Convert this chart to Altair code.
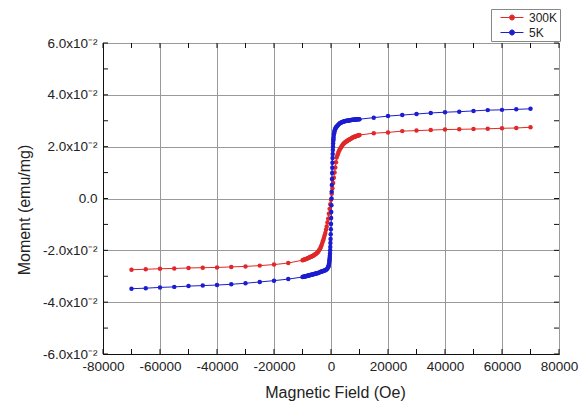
import altair as alt
import pandas as pd

# ---- 300K series ----
field_300 = [-70000, -65000, -60000, -55000, -50000, -45000, -40000, -35000, -30000, -25000, -20000, -15000,
             -10000, -9750, -9500, -9250, -9000, -8750, -8500, -8250, -8000, -7750, -7500, -7250,
             -7000, -6750, -6500, -6250, -6000, -5750, -5500, -5250, -5000, -4750, -4500, -4250,
             -4000, -3750, -3500, -3250, -3000, -2750, -2500, -2250, -2000, -1750, -1500, -1250,
             -1000, -750, -500, -250, 0, 250, 500, 750, 1000, 1250, 1500, 1750,
             2000, 2250, 2500, 2750, 3000, 3250, 3500, 3750, 4000, 4250, 4500, 4750,
             5000, 5250, 5500, 5750, 6000, 6250, 6500, 6750, 7000, 7250, 7500, 7750,
             8000, 8250, 8500, 8750, 9000, 9250, 9500, 9750, 10000,
             15000, 20000, 25000, 30000, 35000, 40000, 45000, 50000, 55000, 60000, 65000, 70000]
moment_300 = [-0.0275, -0.0273, -0.0271, -0.0270, -0.0268, -0.0267, -0.0266, -0.0264, -0.0262, -0.0259, -0.0255, -0.0249,
              -0.0238, -0.0237, -0.0236, -0.0235, -0.0234, -0.0233, -0.0232, -0.0231, -0.0230, -0.0229, -0.0227, -0.0226,
              -0.0225, -0.0224, -0.0222, -0.0221, -0.0219, -0.0217, -0.0215, -0.0213, -0.0211, -0.0208, -0.0205, -0.0201,
              -0.0197, -0.0192, -0.0185, -0.0178, -0.0170, -0.0161, -0.0152, -0.0143, -0.0133, -0.0121, -0.0108, -0.0093,
              -0.0078, -0.0059, -0.0040, -0.0022, -0.0005, 0.0018, 0.0040, 0.0060, 0.0080, 0.0100, 0.0120, 0.0140,
              0.0158, 0.0167, 0.0175, 0.0182, 0.0188, 0.0193, 0.0197, 0.0202, 0.0206, 0.0209, 0.0212, 0.0215,
              0.0217, 0.0219, 0.0221, 0.0223, 0.0225, 0.0227, 0.0228, 0.0230, 0.0231, 0.0233, 0.0234, 0.0236,
              0.0237, 0.0238, 0.0239, 0.0240, 0.0241, 0.0242, 0.0243, 0.0244, 0.0245,
              0.0252, 0.0255, 0.0260, 0.0262, 0.0264, 0.0266, 0.0267, 0.0268, 0.0269, 0.0271, 0.0272, 0.0275]

# ---- 5K series ----
field_5 = [-70000, -65000, -60000, -55000, -50000, -45000, -40000, -35000, -30000, -25000, -20000, -15000,
           -10000, -9750, -9500, -9250, -9000, -8750, -8500, -8250, -8000, -7750, -7500, -7250,
           -7000, -6750, -6500, -6250, -6000, -5750, -5500, -5250, -5000, -4750, -4500, -4250,
           -4000, -3750, -3500, -3250, -3000, -2750, -2500, -2250, -2000, -1750, -1500, -1250, -1000,
           -900, -800, -700, -600, -550,
           -500, -450, -400, -350, -300, -250, -200, -150, -100, -50, 0, 50, 100, 150, 200,
           250, 300, 350, 400, 450, 500, 550, 600, 650, 700, 750, 800, 850, 900,
           1000, 1100, 1200, 1300, 1400, 1550, 1700, 1850,
           2000, 2250, 2500, 2750, 3000, 3250, 3500, 3750, 4000, 4250, 4500, 4750,
           5000, 5250, 5500, 5750, 6000, 6250, 6500, 6750, 7000, 7250, 7500, 7750,
           8000, 8250, 8500, 8750, 9000, 9250, 9500, 9750, 10000,
           15000, 20000, 25000, 30000, 35000, 40000, 45000, 50000, 55000, 60000, 65000, 70000]
moment_5 = [-0.0348, -0.0346, -0.0343, -0.0341, -0.0338, -0.0336, -0.0334, -0.0331, -0.0327, -0.0322, -0.0317, -0.0311,
            -0.0303, -0.0302, -0.0302, -0.0301, -0.0300, -0.0300, -0.0299, -0.0298, -0.0297, -0.0297, -0.0296, -0.0295,
            -0.0294, -0.0294, -0.0293, -0.0292, -0.0291, -0.0291, -0.0290, -0.0289, -0.0288, -0.0288, -0.0287, -0.0286,
            -0.0285, -0.0284, -0.0283, -0.0282, -0.0281, -0.0280, -0.0279, -0.0278, -0.0277, -0.0275, -0.0273, -0.0270, -0.0265,
            -0.0262, -0.0258, -0.0252, -0.0245, -0.0240,
            -0.0235, -0.0229, -0.0222, -0.0212, -0.0200, -0.0187, -0.0172, -0.0156, -0.0138, -0.0119, -0.0098, -0.0075, -0.0052, -0.0026, 0.0,
            0.0026, 0.0052, 0.0075, 0.0098, 0.0119, 0.0138, 0.0156, 0.0172, 0.0187, 0.0200, 0.0212, 0.0222, 0.0229, 0.0235,
            0.0245, 0.0252, 0.0258, 0.0262, 0.0266, 0.0270, 0.0273, 0.0276,
            0.0278, 0.0281, 0.0284, 0.0287, 0.0289, 0.0291, 0.0292, 0.0294, 0.0295, 0.0296, 0.0297, 0.0298,
            0.0299, 0.0299, 0.0300, 0.0300, 0.0301, 0.0301, 0.0302, 0.0302, 0.0303, 0.0303, 0.0304, 0.0304,
            0.0304, 0.0305, 0.0305, 0.0305, 0.0305, 0.0306, 0.0306, 0.0306, 0.0306,
            0.0312, 0.0318, 0.0322, 0.0326, 0.0330, 0.0333, 0.0335, 0.0338, 0.0341, 0.0342, 0.0344, 0.0346]

assert len(field_300) == len(moment_300)
assert len(field_5) == len(moment_5)

series_names = ["300K", "5K"]
series_colors = ["#e02828", "#1c1cd0"]

x_ticks = [-80000, -70000, -60000, -50000, -40000, -30000, -20000, -10000, 0,
           10000, 20000, 30000, 40000, 50000, 60000, 70000, 80000]
y_ticks = [-0.06, -0.05, -0.04, -0.03, -0.02, -0.01, 0.0, 0.01, 0.02, 0.03, 0.04, 0.05, 0.06]

rows = []
for i, (f, m) in enumerate(zip(field_300, moment_300)):
    rows.append({"field": f, "moment": m, "series": "300K", "order": i})
for i, (f, m) in enumerate(zip(field_5, moment_5)):
    rows.append({"field": f, "moment": m, "series": "5K", "order": i})
df = pd.DataFrame(rows)

xt = pd.DataFrame({"v": x_ticks})
yt = pd.DataFrame({"v": y_ticks})

FONT = "Liberation Sans"
PW, PH = 456, 311
TL = 5  # inner tick length in px

color_scale = alt.Scale(domain=series_names, range=series_colors)
xs = alt.Scale(domain=[-80000, 80000], nice=False)
ys = alt.Scale(domain=[-0.06, 0.06], nice=False)

x_enc = alt.X("field:Q", scale=xs,
              axis=alt.Axis(values=x_ticks, title="Magnetic Field (Oe)",
                            labelExpr="datum.value % 20000 === 0 ? toString(datum.value) : ''",
                            labelOverlap=False, labelFlush=False,
                            gridDash=alt.condition("datum.value % 20000 === 0", alt.value([]), alt.value([2, 2])),
                            gridColor=alt.condition("datum.value % 20000 === 0", alt.value("#9a9a9a"), alt.value("#cfcfcf")),
                            ticks=False, labelPadding=5, titlePadding=12, titleX=PW / 2 + 4))
y_enc = alt.Y("moment:Q", scale=ys,
              axis=alt.Axis(values=y_ticks, title="Moment (emu/mg)",
                            labelExpr="abs(round(datum.value*100)) % 2 === 1 ? '' : (abs(datum.value) < 1e-9 ? '0.0' : replace(format(datum.value*100, '.1f'), '−', '-') + 'x10⁻²')",
                            labelOverlap=False, labelFlush=False,
                            gridDash=alt.condition("abs(round(datum.value*100)) % 2 === 0", alt.value([]), alt.value([2, 2])),
                            gridColor=alt.condition("abs(round(datum.value*100)) % 2 === 0", alt.value("#9a9a9a"), alt.value("#cfcfcf")),
                            ticks=False, labelPadding=6, titlePadding=10, titleY=PH / 2 + 11))

legend = alt.Legend(title=None, orient="none", legendX=388, legendY=-34,
                    symbolType="M-1,0H0.5M1.34,0H2.83M0.5,0A0.42,0.42,0,1,1,1.34,0A0.42,0.42,0,1,1,0.5,0Z",
                    symbolSize=144, symbolStrokeWidth=1, symbolOffset=7,
                    labelFontSize=12, labelFont=FONT, labelColor="#222222",
                    strokeColor="#888888", fillColor="white", padding=2, rowPadding=2,
                    labelOffset=16)

lines = alt.Chart(df).mark_line(strokeWidth=1).encode(
    x=x_enc, y=y_enc,
    stroke=alt.Stroke("series:N", scale=color_scale, legend=legend),
    order="order:Q",
    detail="series:N",
)

points = alt.Chart(df).mark_point(filled=True, size=20, opacity=1).encode(
    x="field:Q", y="moment:Q",
    fill=alt.Fill("series:N", scale=color_scale, legend=legend),
)

# inner ticks on all four sides
bot_ticks = alt.Chart(xt).mark_rule(color="#111111", strokeWidth=1).encode(
    x=alt.X("v:Q", scale=xs), y=alt.value(PH), y2=alt.value(PH - TL))
top_ticks = alt.Chart(xt).mark_rule(color="#111111", strokeWidth=1).encode(
    x=alt.X("v:Q", scale=xs), y=alt.value(0), y2=alt.value(TL))
left_ticks = alt.Chart(yt).mark_rule(color="#111111", strokeWidth=1).encode(
    y=alt.Y("v:Q", scale=ys), x=alt.value(0), x2=alt.value(TL))
right_ticks = alt.Chart(yt).mark_rule(color="#111111", strokeWidth=1).encode(
    y=alt.Y("v:Q", scale=ys), x=alt.value(PW), x2=alt.value(PW - TL))

chart = alt.layer(lines, points, bot_ticks, top_ticks, left_ticks, right_ticks).properties(
    width=PW, height=PH,
    autosize=alt.AutoSizeParams(type="none"),
    padding={"left": 95, "top": 35, "right": 20, "bottom": 49},
).configure_view(stroke="#111111", strokeWidth=1).configure_axis(
    labelFont=FONT, titleFont=FONT, labelFontSize=13.5, titleFontSize=16,
    titleFontWeight="normal", labelColor="#222222", titleColor="#222222",
    domainColor="#111111", gridOpacity=1, gridWidth=1,
)

chart.save("out.html", embed_options={"renderer": "svg", "actions": False})
